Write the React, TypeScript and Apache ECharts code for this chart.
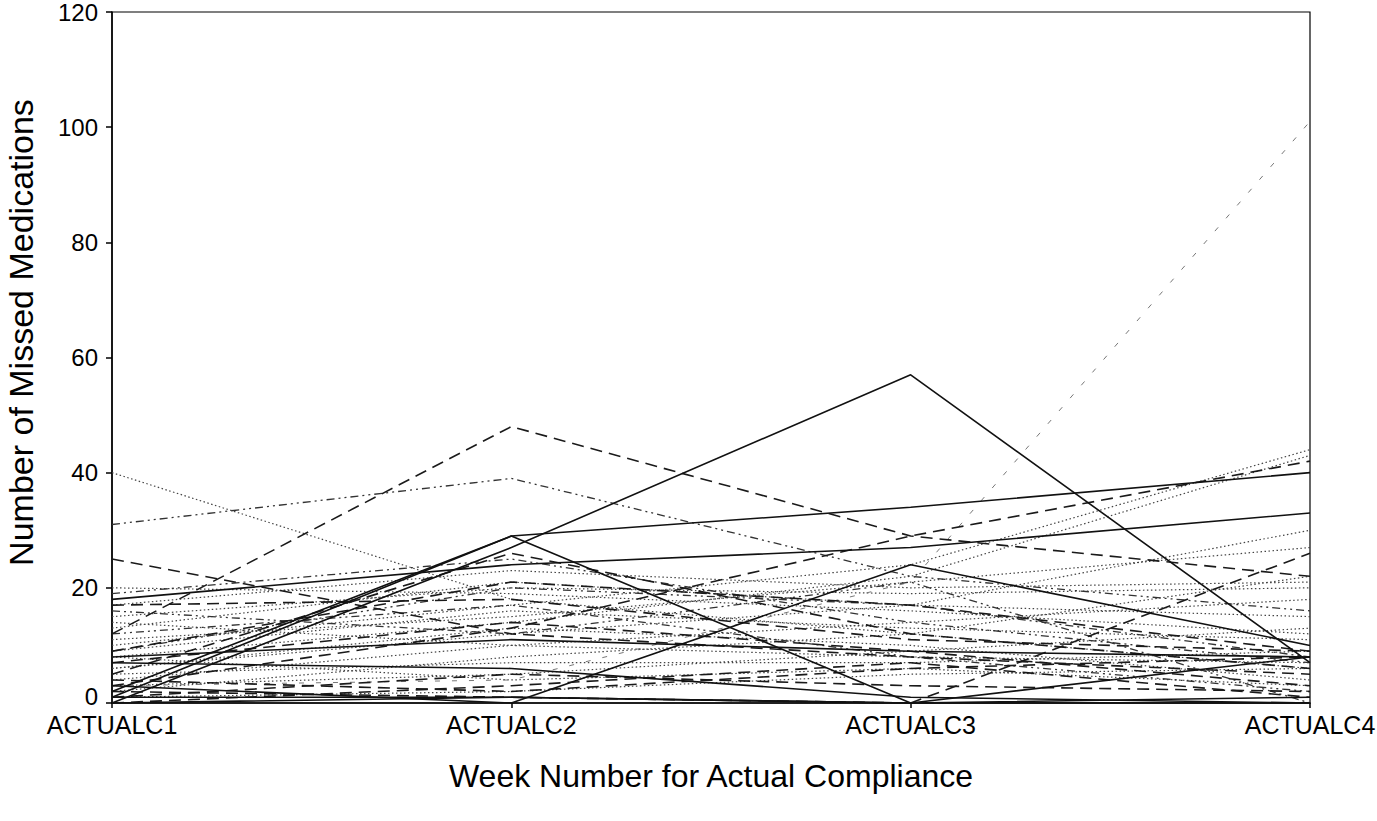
import React, { useEffect, useRef } from "react";
import * as echarts from "echarts";

const categories = ["ACTUALC1", "ACTUALC2", "ACTUALC3", "ACTUALC4"];
const yTicks = [0, 20, 40, 60, 80, 100, 120];

// Each row is one patient: values at ACTUALC1..ACTUALC4
const solidSeries: number[][] = [
  [0, 27, 57, 7],
  [1, 29, 34, 40],
  [2, 29, 0, 8],
  [18, 24, 27, 33],
  [7, 6, 1, 0],
  [3, 0, 24, 10],
  [8, 11, 9, 8],
  [1, 1, 0, 0],
  [0, 1, 0, 1],
];

const dashedSeries: number[][] = [
  [12, 48, 29, 22],
  [25, 12, 8, 5],
  [3, 13, 29, 42],
  [2, 1, 0, 26],
  [9, 21, 17, 9],
  [5, 26, 12, 6],
  [17, 18, 11, 9],
  [0, 3, 7, 1],
  [1, 5, 3, 2],
  [7, 14, 9, 3],
  [4, 2, 6, 8],
];

const dottedSeries: number[][] = [
  [40, 18, 12, 6],
  [17, 23, 20, 21],
  [15, 20, 19, 20],
  [10, 17, 24, 44],
  [8, 14, 22, 43],
  [13, 21, 17, 15],
  [6, 12, 17, 30],
  [9, 16, 13, 11],
  [4, 10, 14, 18],
  [2, 8, 12, 22],
  [14, 10, 8, 7],
  [5, 7, 7, 9],
  [11, 15, 21, 27],
  [3, 5, 9, 13],
  [8, 4, 6, 3],
  [1, 2, 5, 6],
  [20, 19, 16, 12],
  [6, 13, 10, 4],
];

const sparseDashedSeries: number[][] = [[3, 4, 21, 101]];

const dashDotSeries: number[][] = [
  [31, 39, 22, 16],
  [19, 25, 14, 7],
  [16, 12, 21, 0],
  [9, 20, 17, 8],
  [12, 17, 8, 2],
];

const FONT = "'Liberation Sans', Arial, Helvetica, sans-serif";

export default function App() {
  const ref = useRef<HTMLDivElement>(null);

  useEffect(() => {
    if (!ref.current) return;
    const chart = echarts.init(ref.current, undefined, { renderer: "svg" });

    const mk = (
      rows: number[][],
      prefix: string,
      color: string,
      width: number,
      type: any
    ) =>
      rows.map((d, i) => ({
        name: `${prefix}${i + 1}`,
        type: "line",
        data: d,
        symbol: "none",
        silent: true,
        lineStyle: { color, width, type },
      }));

    const series = [
      ...mk(dottedSeries, "dot", "#444", 1.2, [1.5, 2.5]),
      ...mk(sparseDashedSeries, "sparse", "#777", 1, [5, 12]),
      ...mk(dashDotSeries, "dd", "#333", 1.3, [8, 4, 2, 4, 2, 4]),
      ...mk(dashedSeries, "dash", "#1a1a1a", 1.6, [12, 7]),
      ...mk(solidSeries, "solid", "#111", 1.6, "solid"),
    ];

    chart.setOption({
      animation: false,
      backgroundColor: "#ffffff",
      grid: {
        left: 112,
        right: 67,
        top: 12,
        bottom: 118,
        show: true,
        borderColor: "#000",
        borderWidth: 1.2,
        containLabel: false,
        outerBoundsMode: "none",
      },
      xAxis: {
        type: "category",
        data: categories,
        boundaryGap: false,
        name: "Week Number for Actual Compliance",
        nameLocation: "middle",
        nameGap: 57,
        nameTextStyle: { fontFamily: FONT, fontSize: 32, color: "#000" },
        axisLine: { lineStyle: { color: "#000", width: 1.5 } },
        axisTick: { show: true, length: 5, lineStyle: { color: "#000", width: 1.5 } },
        axisLabel: { fontFamily: FONT, fontSize: 25, color: "#000", margin: 9 },
        splitLine: { show: false },
      },
      yAxis: {
        type: "value",
        min: yTicks[0],
        max: yTicks[yTicks.length - 1],
        interval: 20,
        name: "Number of Missed Medications",
        nameLocation: "middle",
        nameGap: 74,
        nameRotate: 90,
        nameTextStyle: {
          fontFamily: FONT,
          fontSize: 34,
          color: "#000",
          padding: [0, 0, 0, 50],
        },
        axisLine: { show: true, lineStyle: { color: "#000", width: 1.5 } },
        axisTick: { show: true, length: 6, lineStyle: { color: "#000", width: 1.5 } },
        axisLabel: {
          fontFamily: FONT,
          fontSize: 24,
          color: "#000",
          margin: 14,
          formatter: (v: number) => (v === 0 ? "{z|0}" : String(v)),
          rich: {
            z: { fontFamily: FONT, fontSize: 24, color: "#000", padding: [0, 0, 14, 0] },
          },
        },
        splitLine: { show: false },
      },
      series,
    });

    return () => chart.dispose();
  }, []);

  return (
    <div
      ref={ref}
      style={{ position: "fixed", left: 0, top: 0, width: 1377, height: 821, background: "#fff" }}
    />
  );
}
